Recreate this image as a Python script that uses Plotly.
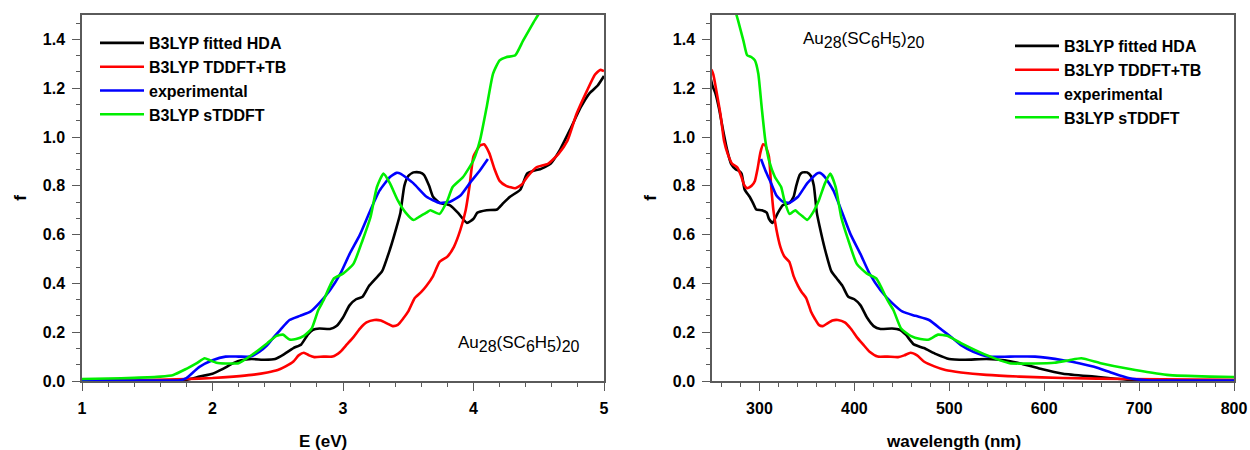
import plotly.graph_objects as go

# ---------------- data (energy in eV, f = oscillator strength) ----------------
series_names = ["B3LYP fitted HDA", "B3LYP TDDFT+TB", "experimental", "B3LYP sTDDFT"]
series_colors = ["#000000", "#ff0000", "#0000ff", "#00ee00"]

hda_E = [1.0, 1.5, 1.8, 1.9, 2.0, 2.08, 2.16, 2.22, 2.3, 2.4, 2.48, 2.55, 2.62, 2.68, 2.73, 2.77,
         2.82, 2.9, 2.95, 3.0, 3.05, 3.1, 3.15, 3.2, 3.25, 3.3, 3.36, 3.41, 3.44, 3.47, 3.5, 3.54,
         3.59, 3.62, 3.66, 3.69, 3.74, 3.82, 3.88, 3.95, 4.0, 4.03, 4.1, 4.18, 4.23, 4.28, 4.36,
         4.41, 4.46, 4.51, 4.59, 4.66, 4.74, 4.82, 4.89, 4.95, 5.0]
hda_f = [0.003, 0.003, 0.005, 0.018, 0.03, 0.05, 0.073, 0.085, 0.09, 0.087, 0.09, 0.11, 0.135, 0.15,
         0.19, 0.21, 0.215, 0.213, 0.225, 0.26, 0.31, 0.335, 0.345, 0.39, 0.42, 0.45, 0.54, 0.63,
         0.69, 0.80, 0.84, 0.855, 0.855, 0.845, 0.80, 0.755, 0.73, 0.72, 0.69, 0.648, 0.665, 0.69,
         0.70, 0.703, 0.73, 0.755, 0.785, 0.85, 0.862, 0.868, 0.89, 0.945, 1.03, 1.12, 1.18, 1.21, 1.25]

tb_E = [1.0, 1.5, 1.8, 2.0, 2.16, 2.3, 2.42, 2.5, 2.56, 2.62, 2.66, 2.7, 2.74, 2.78, 2.85, 2.92,
        2.98, 3.03, 3.08, 3.13, 3.18, 3.24, 3.29, 3.34, 3.38, 3.42, 3.46, 3.5, 3.55, 3.6, 3.64, 3.69,
        3.74, 3.8, 3.85, 3.9, 3.94, 3.97, 4.0, 4.05, 4.08, 4.12, 4.16, 4.2, 4.25, 4.32, 4.37, 4.41,
        4.48, 4.57, 4.65, 4.72, 4.79, 4.87, 4.93, 4.97, 5.0]
tb_f = [0.002, 0.004, 0.008, 0.012, 0.018, 0.025, 0.035, 0.045, 0.06, 0.08, 0.105, 0.116, 0.105,
        0.098, 0.10, 0.10, 0.12, 0.15, 0.18, 0.215, 0.24, 0.25, 0.248, 0.235, 0.225, 0.23, 0.255,
        0.285, 0.34, 0.365, 0.39, 0.43, 0.488, 0.51, 0.55, 0.62, 0.70, 0.80, 0.92, 0.965, 0.97,
        0.935, 0.87, 0.82, 0.80, 0.79, 0.805, 0.835, 0.875, 0.89, 0.93, 0.985, 1.095, 1.19, 1.255,
        1.275, 1.27]

exp_E = [1.0, 1.5, 1.75, 1.8, 1.85, 1.9, 2.0, 2.1, 2.2, 2.29, 2.36, 2.42, 2.47, 2.52, 2.59, 2.67,
         2.75, 2.82, 2.9, 2.98, 3.05, 3.13, 3.21, 3.28, 3.36, 3.41, 3.44, 3.54, 3.64, 3.74, 3.82,
         3.9, 3.97, 4.05, 4.11]
exp_f = [0.002, 0.002, 0.003, 0.012, 0.035, 0.058, 0.085, 0.10, 0.10, 0.10, 0.12, 0.147, 0.18, 0.21,
         0.25, 0.267, 0.284, 0.32, 0.372, 0.44, 0.52, 0.60, 0.70, 0.78, 0.836, 0.853, 0.85, 0.81,
         0.755, 0.73, 0.735, 0.76, 0.81, 0.864, 0.91]

st_E = [1.0, 1.2, 1.4, 1.6, 1.7, 1.8, 1.88, 1.94, 1.98, 2.03, 2.1, 2.2, 2.31, 2.42, 2.49, 2.54, 2.59,
        2.64, 2.7, 2.76, 2.81, 2.85, 2.93, 3.0, 3.08, 3.15, 3.21, 3.26, 3.31, 3.36, 3.42, 3.48,
        3.54, 3.59, 3.64, 3.67, 3.71, 3.74, 3.8, 3.84, 3.92, 4.0, 4.05, 4.1, 4.15, 4.2, 4.25, 4.32,
        4.38, 4.46, 4.5, 4.55]
st_f = [0.008, 0.01, 0.013, 0.018, 0.025, 0.05, 0.073, 0.093, 0.085, 0.075, 0.072, 0.073, 0.11,
        0.155, 0.185, 0.19, 0.17, 0.172, 0.185, 0.215, 0.29, 0.33, 0.42, 0.44, 0.48, 0.577, 0.67,
        0.795, 0.85, 0.81, 0.74, 0.69, 0.66, 0.675, 0.69, 0.70, 0.69, 0.685, 0.74, 0.795, 0.836,
        0.905, 0.987, 1.12, 1.26, 1.314, 1.327, 1.335, 1.395, 1.47, 1.505, 1.57]

series_E = [hda_E, tb_E, exp_E, st_E]
series_f = [hda_f, tb_f, exp_f, st_f]

HC_EV_NM = 1239.84  # E(eV) -> wavelength(nm)

x_ticks_left = [1, 2, 3, 4, 5]
x_ticks_right = [300, 400, 500, 600, 700, 800]
y_ticks = [0.0, 0.2, 0.4, 0.6, 0.8, 1.0, 1.2, 1.4]

# ---------------- figure ----------------
W, H = 1250, 450
FONT = "Liberation Sans, Arial, sans-serif"
AXIS_GREY = "#5a5a5a"

fig = go.Figure()

for name, color, E, f in zip(series_names, series_colors, series_E, series_f):
    fig.add_trace(go.Scatter(x=E, y=f, mode="lines", name=name,
                             line=dict(color=color, width=2.6, shape="spline", smoothing=0.5),
                             xaxis="x", yaxis="y", legend="legend", showlegend=True))
for name, color, E, f in zip(series_names, series_colors, series_E, series_f):
    wl = [HC_EV_NM / e for e in E]
    fig.add_trace(go.Scatter(x=wl, y=f, mode="lines", name=name,
                             line=dict(color=color, width=2.6, shape="spline", smoothing=0.5),
                             xaxis="x2", yaxis="y2", legend="legend2", showlegend=True))

def px_x(p):
    return p / W

def px_y(p):
    return 1 - p / H

tickfont = dict(family=FONT, size=16, color="#000000", weight="bold")

common_x = dict(showline=True, linecolor=AXIS_GREY, linewidth=1.5, mirror=True,
                ticks="outside", ticklen=8, tickwidth=1.3, tickcolor=AXIS_GREY,
                showgrid=False, zeroline=False, tickfont=tickfont, automargin=False,
                ticklabelstandoff=4)
common_y = dict(showline=True, linecolor=AXIS_GREY, linewidth=1.5, mirror=True,
                ticks="outside", ticklen=8, tickwidth=1.3, tickcolor=AXIS_GREY,
                showgrid=False, zeroline=False, tickfont=tickfont, automargin=False,
                range=[0, 1.5], tickvals=y_ticks, ticktext=[f"{v:.1f}" for v in y_ticks],
                minor=dict(dtick=0.2 / 3, tick0=0, ticks="outside", ticklen=4,
                           tickcolor=AXIS_GREY, tickwidth=1.2),
                title=dict(text="f", font=dict(family=FONT, size=17, color="#000", weight="bold"),
                           standoff=12),
                ticklabelstandoff=4)

legend_font = dict(family=FONT, size=16, color="#000", weight="bold")

fig.update_layout(
    width=W, height=H,
    margin=dict(l=0, r=0, t=0, b=0),
    paper_bgcolor="white", plot_bgcolor="white",
    xaxis=dict(common_x, domain=[px_x(82), px_x(604)], range=[1, 5], anchor="y",
               tickvals=x_ticks_left, ticktext=[str(v) for v in x_ticks_left],
               minor=dict(dtick=0.2, tick0=1, ticks="outside", ticklen=4,
                          tickcolor=AXIS_GREY, tickwidth=1.2)),
    yaxis=dict(common_y, domain=[px_y(381), px_y(15)], anchor="x"),
    xaxis2=dict(common_x, domain=[px_x(712), px_x(1234)], range=[250, 800], anchor="y2",
                tickvals=x_ticks_right, ticktext=[str(v) for v in x_ticks_right],
                minor=dict(dtick=20, tick0=0, ticks="outside", ticklen=4,
                           tickcolor=AXIS_GREY, tickwidth=1.2)),
    yaxis2=dict(common_y, domain=[px_y(381), px_y(15)], anchor="x2"),
    legend=dict(x=px_x(95), y=px_y(26), xanchor="left", yanchor="top",
                bgcolor="rgba(0,0,0,0)", borderwidth=0, itemwidth=44, tracegroupgap=0,
                font=legend_font),
    legend2=dict(x=px_x(1010), y=px_y(29), xanchor="left", yanchor="top",
                 bgcolor="rgba(0,0,0,0)", borderwidth=0, itemwidth=44, tracegroupgap=0,
                 font=legend_font),
)

formula = ("Au<sub><span style='font-size:16px'>28</span></sub>(SC<sub><span style='font-size:16px'>6</span></sub>"
           "H<sub><span style='font-size:16px'>5</span></sub>)<sub><span style='font-size:16px'>20</span></sub>")
ann_font = dict(family=FONT, size=17, color="#000")
fig.add_annotation(text=formula, xref="paper", yref="paper", x=px_x(456), y=px_y(344),
                   xanchor="left", yanchor="middle", showarrow=False, font=ann_font)
fig.add_annotation(text=formula, xref="paper", yref="paper", x=px_x(801), y=px_y(40),
                   xanchor="left", yanchor="middle", showarrow=False, font=ann_font)

title_font = dict(family=FONT, size=17, color="#000", weight="bold")
fig.add_annotation(text="E (eV)", xref="paper", yref="paper", x=px_x(323), y=px_y(441),
                   xanchor="center", yanchor="middle", showarrow=False, font=title_font)
fig.add_annotation(text="wavelength (nm)", xref="paper", yref="paper", x=px_x(953), y=px_y(441),
                   xanchor="center", yanchor="middle", showarrow=False, font=title_font)

fig.write_html("out.html",
               config={"displayModeBar": False},
               post_script="document.body.style.margin='0';document.body.style.overflow='hidden';")
